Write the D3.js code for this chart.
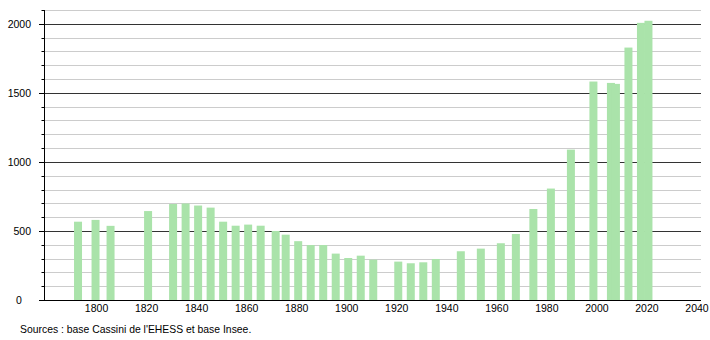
<!DOCTYPE html>
<html>
<head>
<meta charset="utf-8">
<script src="https://cdn.jsdelivr.net/npm/d3@7"></script>
<style>
  html, body { margin: 0; padding: 0; background: #fff; }
  svg { display: block; font-family: "Liberation Sans", Arial, sans-serif; }
</style>
</head>
<body>
<svg id="chart" width="710" height="340"></svg>
<script>
const years = [1793,1800,1806,1821,1831,1836,1841,1846,1851,1856,1861,1866,1872,1876,1881,1886,1891,1896,1901,1906,1911,1921,1926,1931,1936,1946,1954,1962,1968,1975,1982,1990,1999,2006,2008,2013,2018,2021];
const population = [567,580,537,644,695,699,684,669,567,538,546,538,500,473,426,398,398,336,304,321,292,278,266,273,297,353,372,411,478,659,807,1089,1582,1572,1565,1828,2007,2022];
const xTickLabels = [1800,1820,1840,1860,1880,1900,1920,1940,1960,1980,2000,2020,2040];
const yMajorTicks = [0,500,1000,1500,2000];
const yMinorTicks = [100,200,300,400,600,700,800,900,1100,1200,1300,1400,1600,1700,1800,1900,2100];
const sourceText = "Sources : base Cassini de l'EHESS et base Insee.";

const svg = d3.select("#chart");
const x = d3.scaleLinear().domain([1779, 2042]).range([43, 701]);
const y = d3.scaleLinear().domain([0, 2100]).range([300, 10]);
const barW = 8;

// minor grid
svg.append("g").selectAll("line").data(yMinorTicks).join("line")
  .attr("x1", 44).attr("x2", 701)
  .attr("y1", d => Math.round(y(d)) + 0.5).attr("y2", d => Math.round(y(d)) + 0.5)
  .attr("stroke", "#cccccc").attr("stroke-width", 1);

// major grid
svg.append("g").selectAll("line").data(yMajorTicks.filter(d => d > 0)).join("line")
  .attr("x1", 44).attr("x2", 701)
  .attr("y1", d => Math.round(y(d)) + 0.5).attr("y2", d => Math.round(y(d)) + 0.5)
  .attr("stroke", "#333333").attr("stroke-width", 1);

// bars
svg.append("g").selectAll("rect").data(years.map((yr, i) => ({yr, v: population[i]}))).join("rect")
  .attr("x", d => x(d.yr) - barW / 2)
  .attr("width", barW)
  .attr("y", d => y(d.v))
  .attr("height", d => y(0) - y(d.v))
  .attr("fill", "#aae3aa");

// y axis line
svg.append("line").attr("x1", 44.5).attr("x2", 44.5).attr("y1", 10).attr("y2", 300)
  .attr("stroke", "#000").attr("stroke-width", 1);
// y ticks
svg.append("g").selectAll("line").data(yMajorTicks).join("line")
  .attr("x1", 39).attr("x2", 44)
  .attr("y1", d => Math.round(y(d)) + 0.5).attr("y2", d => Math.round(y(d)) + 0.5)
  .attr("stroke", "#000");
svg.append("g").selectAll("line").data(yMinorTicks).join("line")
  .attr("x1", 41.5).attr("x2", 44)
  .attr("y1", d => Math.round(y(d)) + 0.5).attr("y2", d => Math.round(y(d)) + 0.5)
  .attr("stroke", "#000");
// y labels
svg.append("g").selectAll("text").data(yMajorTicks).join("text")
  .attr("x", d => d === 0 ? 19 : 31)
  .attr("y", d => y(d) + 4)
  .attr("text-anchor", d => d === 0 ? "middle" : "end")
  .attr("font-size", 10.5).attr("fill", "#000")
  .text(d => d);

// x axis line
svg.append("line").attr("x1", 39).attr("x2", 701).attr("y1", 300.5).attr("y2", 300.5)
  .attr("stroke", "#000").attr("stroke-width", 1);
// x labels
svg.append("g").selectAll("text").data(xTickLabels).join("text")
  .attr("x", d => x(d) + 1)
  .attr("y", 312)
  .attr("text-anchor", "middle")
  .attr("font-size", 10.5).attr("fill", "#000")
  .text(d => d);

// source
svg.append("text").attr("x", 20).attr("y", 333)
  .attr("font-size", 10.4).attr("fill", "#000")
  .text(sourceText);
</script>
</body>
</html>
